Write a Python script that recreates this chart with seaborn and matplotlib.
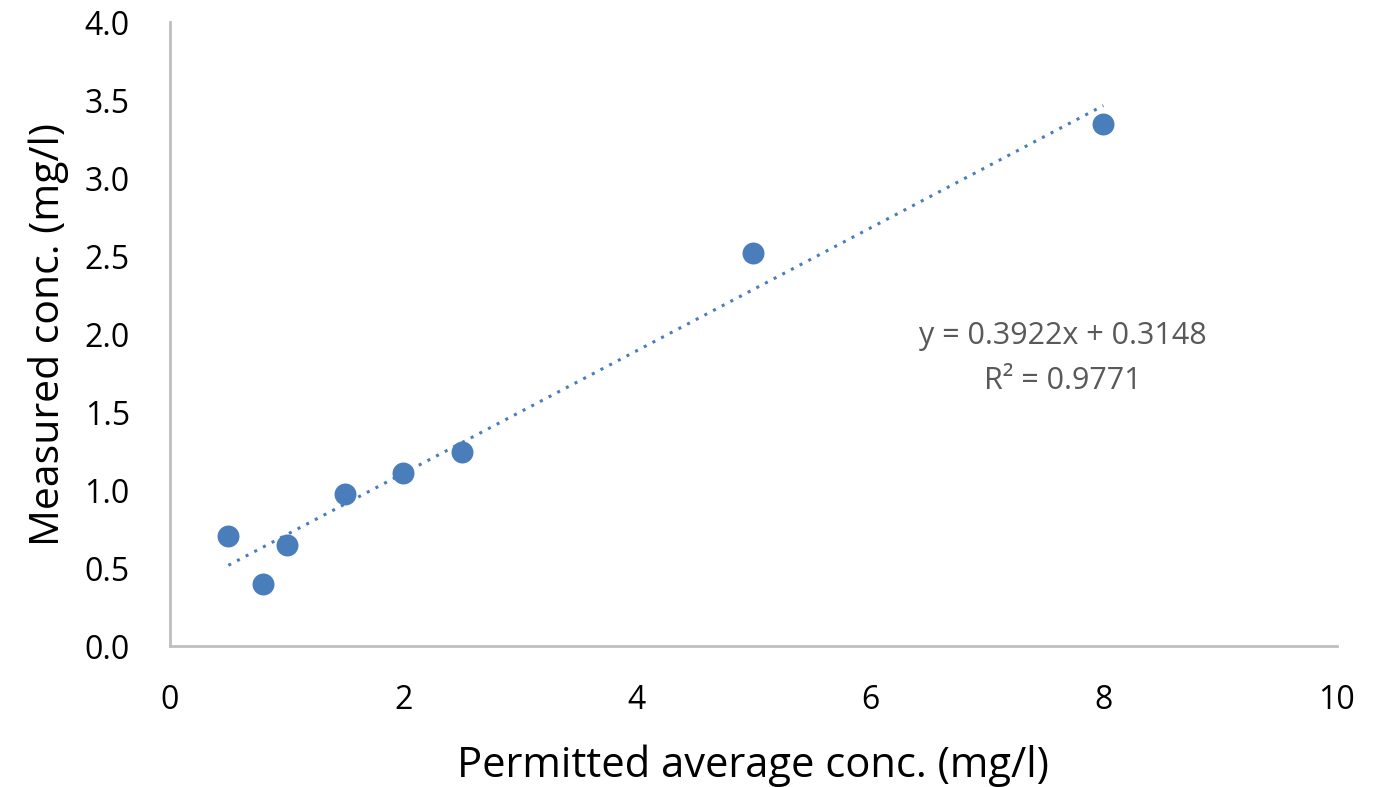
import matplotlib
matplotlib.use("Agg")
import matplotlib.pyplot as plt
import seaborn as sns
import numpy as np
import pandas as pd

permitted = [0.5, 0.8, 1.0, 1.5, 2.0, 2.5, 5.0, 8.0]
measured = [0.705, 0.397, 0.647, 0.974, 1.109, 1.244, 2.519, 3.346]
x_ticks = [0, 2, 4, 6, 8, 10]
y_ticks = [0.0, 0.5, 1.0, 1.5, 2.0, 2.5, 3.0, 3.5, 4.0]
eq_text = "y = 0.3922x + 0.3148"
r2_text = "R² = 0.9771"

df = pd.DataFrame({"x": permitted, "y": measured})

sns.set_theme(style="white")
plt.rcParams['font.family'] = ['Open Sans', 'DejaVu Sans']

fig = plt.figure(figsize=(13.78, 7.87), dpi=100)
ax = fig.add_axes([0.1234, 0.179, 0.8466, 0.793])

color = "#4a7ebb"
sns.regplot(data=df, x="x", y="y", ax=ax, ci=None, scatter=False, truncate=True,
            line_kws=dict(color=color, linestyle=(0, (1, 2.2)), linewidth=2.2))
sns.scatterplot(data=df, x="x", y="y", ax=ax, s=250, color=color, edgecolor=color,
                linewidth=0, zorder=3)

ax.set_xlim(0, 10)
ax.set_ylim(0, 4.0)
ax.set_xticks(x_ticks)
ax.set_xticklabels([str(t) for t in x_ticks])
ax.set_yticks(y_ticks)
ax.set_yticklabels([f"{t:.1f}" for t in y_ticks])
ax.tick_params(axis='both', length=0, labelsize=23, colors='#000000')
ax.tick_params(axis='y', pad=29)
ax.tick_params(axis='x', pad=27)

for s in ["top", "right"]:
    ax.spines[s].set_visible(False)
for s in ["left", "bottom"]:
    ax.spines[s].set_color("#bfbfbf")
    ax.spines[s].set_linewidth(2)

ax.set_xlabel("Permitted average conc. (mg/l)", fontsize=30, labelpad=20, color="#000000")
ax.set_ylabel("Measured conc. (mg/l)", fontsize=29.5, labelpad=11, color="#000000")

ax.text(7.65, 1.99, eq_text, fontsize=22, color="#595959", ha="center", va="center")
ax.text(7.65, 1.70, r2_text, fontsize=22, color="#595959", ha="center", va="center")

fig.savefig("out.png", dpi=100)
